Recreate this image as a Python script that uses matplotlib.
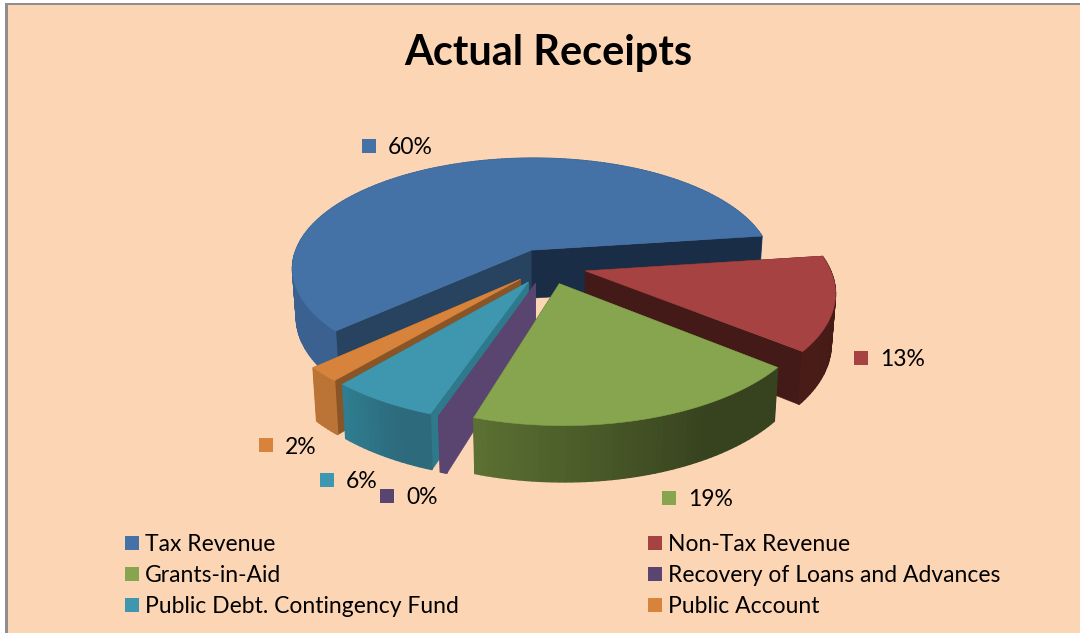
import numpy as np
import matplotlib
matplotlib.use("Agg")
import matplotlib.pyplot as plt
from matplotlib.patches import Patch, Rectangle

# Budget receipts by head, percent of total
categories = ["Tax Revenue", "Non-Tax Revenue", "Grants-in-Aid",
              "Recovery of Loans and Advances", "Public Debt. Contingency Fund", "Public Account"]
shares = [60, 13, 19, 0.4, 6, 2]

top_colors = ["#4472A6", "#A64342", "#87A44F", "#5A4571", "#3F97AF", "#D8833C"]
# outer wall shade at the clockwise-first and clockwise-last end of each slice
rim_colors = [("#3A6190", "#3A6190"), ("#431A17", "#4A1C18"), ("#37421E", "#5B7032"),
              ("#5A4571", "#5A4571"), ("#2D6A7C", "#2F7D90"), ("#BC7436", "#BC7436")]
start_wall = ["#27435F", "#431A17", "#37421E", "#5A4571", "#2E7A8C", "#8A5526"]
end_wall = ["#1A2D47", "#431A17", "#37421E", "#5A4571", "#2E7A8C", "#8A5526"]
label_squares = [(369, 146), (861, 358), (669, 498), (387, 496), (327, 480), (266, 445)]
label_offset = 19

BACKGROUND = "#FCD5B5"
START_DEG, EXPLODE = 221.2, 0.16
CX, CY, RX, RY, PERSP = 547.6, 266.0, 242.2, 112.0, 0.165
DEPTH, BOTTOM_X, BOTTOM_RY = 48.8, 0.985, 117.3
SHEAR, TILT = 7.5, 3.0


def project(x, y, bottom=False):
    """Ground-plane pie coordinates to canvas pixels, with mild perspective."""
    x, y = np.asarray(x, float), np.asarray(y, float)
    f = 1.0 / (1.0 + PERSP * y)
    if bottom:
        return CX + RX * BOTTOM_X * x * f - SHEAR * y, CY + DEPTH - BOTTOM_RY * y * f - TILT * x
    return CX + RX * x * f - SHEAR * y, CY - RY * y * f - TILT * x


def blend(c0, c1, t):
    a, b = np.array(matplotlib.colors.to_rgb(c0)), np.array(matplotlib.colors.to_rgb(c1))
    return tuple(a + (b - a) * t)


fig = plt.figure(figsize=(10.8, 6.33), dpi=100, facecolor="white")
ax = fig.add_axes([0, 0, 1, 1])
ax.set_xlim(0, 1080)
ax.set_ylim(633, 0)
ax.axis("off")
plt.rcParams["font.family"] = ["Lato", "DejaVu Sans"]

# chart area with its grey top and left edge
ax.add_patch(Rectangle((5, 3), 1075, 630, fc="#8E8E8E", ec="none", zorder=0))
ax.add_patch(Rectangle((7.5, 4.5), 1073, 629, fc=BACKGROUND, ec="none", zorder=0.1))

ax.text(548, 53, "Actual Receipts", ha="center", va="center", fontsize=29.9,
        fontweight="bold", color="black")

# slices run clockwise from the start angle
fractions = np.array(shares) / np.sum(shares)
edges = START_DEG - 360 * np.concatenate([[0], np.cumsum(fractions)])
paint_order = [0, 1, 5, 4, 3, 2]


def draw_strips(xa, ya, xb, yb, indices, first, last, count, zo):
    """Curved outer wall, shaded strip by strip."""
    for j in indices:
        t = np.clip((j / max(1, count - 2) - 0.3) / 0.7, 0, 1)
        c = blend(first, last, t)
        ax.fill([xa[j], xa[j + 1], xb[j + 1], xb[j]],
                [ya[j], ya[j + 1], yb[j + 1], yb[j]], fc=c, ec=c, lw=1.0, zorder=zo)


for z, i in enumerate(paint_order):
    t0, t1 = edges[i], edges[i + 1]
    mid = np.radians((t0 + t1) / 2)
    ox, oy = EXPLODE * np.cos(mid), EXPLODE * np.sin(mid)
    arc = np.radians(np.linspace(t0, t1, max(8, int(abs(t1 - t0) * 0.8))))
    rim_x, rim_y = ox + np.cos(arc), oy + np.sin(arc)
    zo = 1 + z

    px0, py0 = project(rim_x, rim_y)
    px1, py1 = project(rim_x, rim_y, bottom=True)
    n = len(arc)
    back = [j for j in range(n - 1) if np.sin(arc[j]) > 0 and np.sin(arc[j + 1]) > 0]
    front = [j for j in range(n - 1) if j not in back]

    # rear part of the rim goes first, then the straight walls, then the front part
    draw_strips(px0, py0, px1, py1, back, *rim_colors[i], n, zo)
    for end, col in ((0, start_wall[i]), (-1, end_wall[i])):
        tx = np.array([ox, rim_x[end]])
        ty = np.array([oy, rim_y[end]])
        wx0, wy0 = project(tx, ty)
        wx1, wy1 = project(tx, ty, bottom=True)
        ax.fill(np.r_[wx0, wx1[::-1]], np.r_[wy0, wy1[::-1]], fc=col, ec=col, lw=0.4, zorder=zo)
    draw_strips(px0, py0, px1, py1, front, *rim_colors[i], n, zo)

    # top face
    ax.fill(np.r_[project(ox, oy)[0], px0], np.r_[project(ox, oy)[1], py0],
            fc=top_colors[i], ec=top_colors[i], lw=0.4, zorder=zo + 0.5)

# data labels: colour key plus the share, rounded to a whole percent
for value, color, (sx, sy) in zip(shares, top_colors, label_squares):
    ax.add_patch(Rectangle((sx - 7, sy - 7), 14, 14, fc=color, ec="none", zorder=20))
    ax.text(sx + label_offset, sy + 2, f"{round(value)}%", ha="left", va="center",
            fontsize=16.5, color="black", zorder=20)

# legend fills column by column, so hand it each column in turn
handle_order = [0, 2, 4, 1, 3, 5]
handles = [Patch(fc=top_colors[i], ec="none", label=categories[i]) for i in handle_order]
ax.legend(handles=handles, ncol=2, loc="upper left", bbox_to_anchor=(125 / 1080, 1 - 534 / 633),
          frameon=False, fontsize=16.5, handlelength=0.61, handleheight=0.61, handletextpad=0.25,
          columnspacing=8.28, labelspacing=0.44, borderpad=0, borderaxespad=0, labelcolor="black")

fig.savefig("out.png", dpi=100)
